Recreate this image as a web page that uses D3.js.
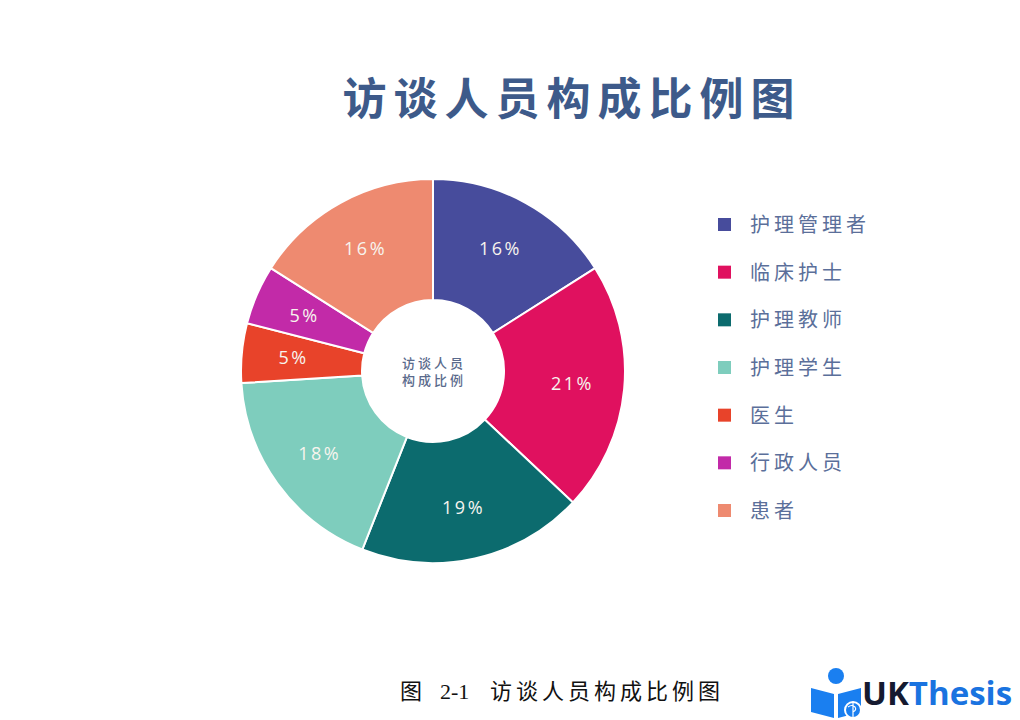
<!DOCTYPE html>
<html>
<head>
<meta charset="utf-8">
<script src="https://cdn.jsdelivr.net/npm/d3@7/dist/d3.min.js"></script>
<style>
  html, body { margin: 0; padding: 0; background: #ffffff; }
  svg { display: block; }
</style>
</head>
<body>
<svg id="chart" width="1020" height="720"></svg>
<script>
const categories = ["护理管理者", "临床护士", "护理教师", "护理学生", "医生", "行政人员", "患者"];
const values = [16, 21, 19, 18, 5, 5, 16];
const colors = ["#474c9c", "#e0115f", "#0c6b6e", "#7ecdbd", "#e8432a", "#c22aa8", "#ee8a70"];
const title = "访谈人员构成比例图";
const centerLines = ["访谈人员", "构成比例"];
const captionParts = ["图", "2-1", "访谈人员构成比例图"];

const svg = d3.select("#chart");
const cx = 433, cy = 371, rOuter = 192, rInner = 71;

svg.append("text")
  .attr("x", 572).attr("y", 115)
  .attr("text-anchor", "middle")
  .attr("font-family", "'Noto Sans CJK SC', sans-serif")
  .attr("font-weight", "bold")
  .attr("font-size", 44)
  .attr("letter-spacing", 7)
  .attr("fill", "#3d5a8a")
  .text(title);

const data = categories.map((c, i) => ({ cat: c, value: values[i], color: colors[i] }));
const pie = d3.pie().sort(null).value(d => d.value).startAngle(0).endAngle(2 * Math.PI);
const arc = d3.arc().innerRadius(rInner).outerRadius(rOuter);
const labelArc = d3.arc().innerRadius(140).outerRadius(140);

const g = svg.append("g").attr("transform", `translate(${cx},${cy})`);
const arcs = pie(data);
g.selectAll("path.slice").data(arcs).join("path")
  .attr("class", "slice")
  .attr("d", arc)
  .attr("fill", d => d.data.color)
  .attr("stroke", "#ffffff")
  .attr("stroke-width", 2);

g.selectAll("text.pct").data(arcs).join("text")
  .attr("class", "pct")
  .attr("transform", d => `translate(${labelArc.centroid(d)})`)
  .attr("text-anchor", "middle")
  .attr("dy", "0.35em")
  .attr("font-family", "'Open Sans', 'Noto Sans', sans-serif")
  .attr("font-size", 18)
  .attr("letter-spacing", 2.5)
  .attr("fill", "#f7f4ee")
  .text(d => d.data.value + "%");

g.selectAll("text.center").data(centerLines).join("text")
  .attr("class", "center")
  .attr("x", 1)
  .attr("y", (d, i) => -8 + i * 17)
  .attr("text-anchor", "middle")
  .attr("dy", "0.35em")
  .attr("font-family", "'Noto Sans CJK SC', sans-serif")
  .attr("font-weight", 500)
  .attr("font-size", 13)
  .attr("letter-spacing", 3)
  .attr("fill", "#5a6a8c")
  .text(d => d);

const legend = svg.append("g");
const ly = d3.scalePoint().domain(categories).range([225, 511]);
const items = legend.selectAll("g.item").data(data).join("g")
  .attr("class", "item")
  .attr("transform", d => `translate(718,${ly(d.cat)})`);
items.append("rect")
  .attr("x", 0).attr("y", -7).attr("width", 13).attr("height", 13)
  .attr("fill", d => d.color);
items.append("text")
  .attr("x", 32).attr("y", 0).attr("dy", "0.35em")
  .attr("font-family", "'Noto Sans CJK SC', sans-serif")
  .attr("font-size", 20)
  .attr("letter-spacing", 4)
  .attr("fill", "#5b6f9a")
  .text(d => d.cat);

const cap = svg.append("text")
  .attr("y", 699)
  .attr("font-family", "'Liberation Serif', 'Noto Sans CJK SC', serif")
  .attr("font-size", 22)
  .attr("fill", "#111111");
cap.append("tspan").attr("x", 400).text(captionParts[0]);
cap.append("tspan").attr("x", 440).text(captionParts[1]);
cap.append("tspan").attr("x", 490).attr("letter-spacing", 4).text(captionParts[2]);

// logo
const logo = svg.append("g");
logo.append("circle").attr("cx", 836).attr("cy", 676).attr("r", 8).attr("fill", "#1a7ff0");
logo.append("path")
  .attr("d", "M811,688 L834,694 L834,718 L811,712 Z M838,694 L861,688 L861,712 L838,718 Z")
  .attr("fill", "#1a7ff0");
logo.append("circle").attr("cx", 853).attr("cy", 710).attr("r", 8).attr("fill", "#1a7ff0").attr("stroke", "#ffffff").attr("stroke-width", 2);
logo.append("path").attr("d", "M848,707 q4,-3 7,0 q2,3 -2,5 M853,702 v16").attr("fill", "none").attr("stroke", "#ffffff").attr("stroke-width", 1.2);
const lt = logo.append("text")
  .attr("x", 862).attr("y", 705)
  .attr("font-family", "'Open Sans', 'Noto Sans', sans-serif")
  .attr("font-weight", "bold")
  .attr("font-size", 33);
lt.append("tspan").attr("fill", "#151a30").text("UK");
lt.append("tspan").attr("fill", "#1a73e0").text("Thesis");
</script>
</body>
</html>
